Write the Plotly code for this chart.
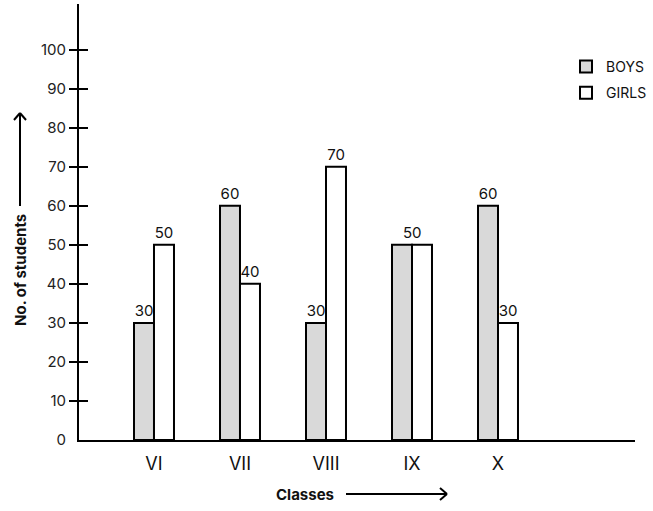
import plotly.graph_objects as go

classes = ["VI", "VII", "VIII", "IX", "X"]
boys = [30, 60, 30, 50, 60]
girls = [50, 40, 70, 50, 30]
y_ticks = [0, 10, 20, 30, 40, 50, 60, 70, 80, 90, 100]
tick_marks = y_ticks[1:]  # the 0 label has no tick mark

FONT = "Inter, Roboto, Arial, sans-serif"
Y_RANGE = [0, 111.7]

# where both bars are equal the chart shows a single shared label
same = [b == g for b, g in zip(boys, girls)]
boys_text = ["" if s else str(b) for b, s in zip(boys, same)]
girls_text = ["" if s else str(g) for g, s in zip(girls, same)]

fig = go.Figure()
fig.add_trace(go.Bar(x=classes, y=boys, name="BOYS", legendgroup="boys",
                     marker=dict(color="#d9d9d9", line=dict(color="black", width=2)),
                     text=boys_text, textposition="outside", cliponaxis=False,
                     textfont=dict(size=15, color="#111")))
fig.add_trace(go.Bar(x=classes, y=girls, name="GIRLS", legendgroup="girls",
                     marker=dict(color="white", line=dict(color="black", width=2)),
                     text=girls_text, textposition="outside", cliponaxis=False,
                     textfont=dict(size=15, color="#111")))
# empty helper traces so the two tick-only axes get drawn
for ax in ("y2", "y3"):
    fig.add_trace(go.Scatter(x=[], y=[], yaxis=ax, showlegend=False, hoverinfo="skip"))


# pixel -> paper helpers for the decorations (plot area 79..635 x 4..440)
def px(v):
    return (v - 79) / 556


def py(v):
    return (440 - v) / 436


arrow = dict(color="black", width=2)
shapes = [
    # vertical arrow next to y title
    dict(type="line", xref="paper", yref="paper", x0=px(20), x1=px(20), y0=py(206), y1=py(113), line=arrow),
    dict(type="line", xref="paper", yref="paper", x0=px(14), x1=px(20), y0=py(120), y1=py(113), line=arrow),
    dict(type="line", xref="paper", yref="paper", x0=px(26), x1=px(20), y0=py(120), y1=py(113), line=arrow),
    # horizontal arrow next to x title
    dict(type="line", xref="paper", yref="paper", x0=px(346), x1=px(447), y0=py(494), y1=py(494), line=arrow),
    dict(type="line", xref="paper", yref="paper", x0=px(440), x1=px(447), y0=py(488), y1=py(494), line=arrow),
    dict(type="line", xref="paper", yref="paper", x0=px(440), x1=px(447), y0=py(500), y1=py(494), line=arrow),
]

annotations = [
    dict(text="<b>No. of students</b>", textangle=-90, xref="paper", yref="paper",
         x=px(20), y=py(270), xanchor="center", yanchor="middle",
         showarrow=False, font=dict(size=15, color="#111")),
    dict(text="<b>Classes</b>", xref="paper", yref="paper",
         x=px(305), y=py(494), xanchor="center", yanchor="middle",
         showarrow=False, font=dict(size=15, color="#111")),
]
for c, b, s in zip(classes, boys, same):
    if s:
        annotations.append(dict(text=str(b), x=c, y=b, xref="x", yref="y", yanchor="bottom",
                                yshift=1, showarrow=False, font=dict(size=15, color="#111")))

tick_style = dict(range=Y_RANGE, tickvals=tick_marks, overlaying="y", side="left", anchor="x",
                  ticklen=9, tickwidth=2, tickcolor="black",
                  showticklabels=False, showgrid=False, zeroline=False, showline=False)

fig.update_layout(
    width=653, height=511,
    margin=dict(l=79, r=18, t=4, b=71, autoexpand=False),
    paper_bgcolor="white", plot_bgcolor="white",
    font=dict(family=FONT, color="#111"),
    barmode="group", bargap=0.535, bargroupgap=0,
    showlegend=True,
    legend=dict(x=px(566), y=py(51), xanchor="left", yanchor="top",
                font=dict(size=14), itemwidth=30, tracegroupgap=5,
                traceorder="grouped", bgcolor="rgba(0,0,0,0)"),
    xaxis=dict(range=[-0.872, 5.593], showline=True, linecolor="black", linewidth=2,
               ticks="", showgrid=False, zeroline=False, tickfont=dict(size=18),
               ticklabelstandoff=6),
    yaxis=dict(range=Y_RANGE, tickvals=y_ticks, showline=True, linecolor="black", linewidth=2,
               ticks="", ticklabelstandoff=8,
               showgrid=False, zeroline=False, tickfont=dict(size=15, color="#222")),
    yaxis2=dict(ticks="inside", **tick_style),
    yaxis3=dict(ticks="outside", **tick_style),
    shapes=shapes,
    annotations=annotations,
)

fig.write_html("out.html", config={"displayModeBar": False},
               post_script="document.body.style.margin='0';")
